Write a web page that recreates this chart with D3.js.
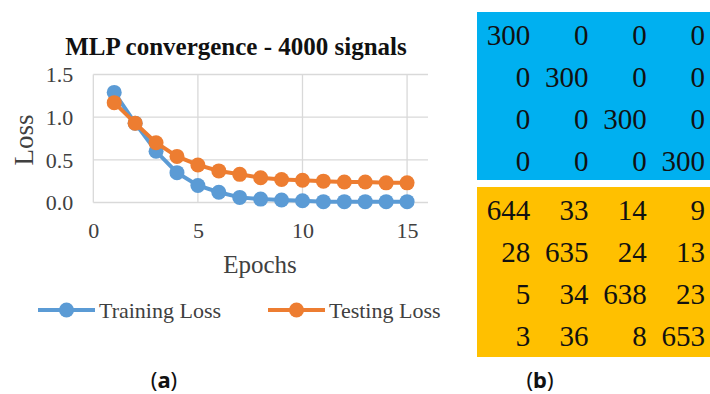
<!DOCTYPE html>
<html>
<head>
<meta charset="utf-8">
<script src="https://cdn.jsdelivr.net/npm/d3@7/dist/d3.min.js"></script>
<style>
  html, body { margin: 0; padding: 0; background: #fff; }
  svg { display: block; }
  .serif { font-family: "Liberation Serif", "Times New Roman", serif; }
</style>
</head>
<body>
<svg id="fig" width="710" height="394"></svg>
<script>
// Loss per epoch for the MLP
const epochs = [1, 2, 3, 4, 5, 6, 7, 8, 9, 10, 11, 12, 13, 14, 15];
const trainingLoss = [1.29, 0.93, 0.60, 0.35, 0.20, 0.12, 0.06, 0.04, 0.03, 0.02, 0.01, 0.01, 0.01, 0.01, 0.01];
const testingLoss  = [1.17, 0.93, 0.70, 0.54, 0.44, 0.37, 0.33, 0.29, 0.27, 0.26, 0.25, 0.24, 0.24, 0.23, 0.23];
const seriesNames = ["Training Loss", "Testing Loss"];
const xTicks = [0, 5, 10, 15];
const yTicks = [0, 0.5, 1.0, 1.5];

// Confusion matrices
const trainMatrix = [
  [300, 0, 0, 0],
  [0, 300, 0, 0],
  [0, 0, 300, 0],
  [0, 0, 0, 300]
];
const testMatrix = [
  [644, 33, 14, 9],
  [28, 635, 24, 13],
  [5, 34, 638, 23],
  [3, 36, 8, 653]
];

const colors = ["#5B9BD5", "#ED7D31"];
const svg = d3.select("#fig");

// ---- (a) loss curves ----
const x = d3.scaleLinear().domain([0, 16]).range([93.3, 428]);
const y = d3.scaleLinear().domain([0, 1.5]).range([202.5, 74.5]);

const grid = svg.append("g");
grid.selectAll("line.h").data(yTicks).join("line")
  .attr("x1", x(0)).attr("x2", x(16))
  .attr("y1", d => y(d)).attr("y2", d => y(d))
  .attr("stroke", "#d9d9d9").attr("stroke-width", 1.3);
grid.selectAll("line.v").data(xTicks).join("line")
  .attr("x1", d => x(d)).attr("x2", d => x(d))
  .attr("y1", y(0)).attr("y2", y(1.5))
  .attr("stroke", "#d9d9d9").attr("stroke-width", 1.3);

// Axes: only labels, the frame lines come from the grid
const yAxis = d3.axisLeft(y).tickValues(yTicks).tickFormat(d3.format(".1f")).tickSize(0).tickPadding(20);
const xAxis = d3.axisBottom(x).tickValues(xTicks).tickFormat(d3.format("d")).tickSize(0).tickPadding(20);
const gy = svg.append("g").attr("transform", `translate(${x(0)},0)`).call(yAxis);
const gx = svg.append("g").attr("transform", `translate(0,${y(0)})`).call(xAxis);
[gy, gx].forEach(g => {
  g.attr("font-family", null).attr("font-size", null).attr("class", "serif");
  g.select(".domain").remove();
  g.selectAll("text").attr("font-size", 22).attr("fill", "#404040");
});
gy.selectAll("text").attr("dy", "0.34em");
gx.selectAll("text").attr("dy", "0.71em");

const seriesData = [trainingLoss, testingLoss].map(vals => epochs.map((e, i) => ({ e, v: vals[i] })));
const line = d3.line().x(d => x(d.e)).y(d => y(d.v));

seriesData.forEach((pts, k) => {
  const g = svg.append("g");
  g.append("path").datum(pts).attr("d", line)
    .attr("fill", "none").attr("stroke", colors[k]).attr("stroke-width", 4);
  g.selectAll("circle").data(pts).join("circle")
    .attr("cx", d => x(d.e)).attr("cy", d => y(d.v)).attr("r", 7.5)
    .attr("fill", colors[k]);
});

svg.append("text").attr("class", "serif").attr("x", 236).attr("y", 55).attr("text-anchor", "middle")
  .attr("font-weight", "bold").attr("font-size", 25)
  .attr("fill", "#111").text("MLP convergence - 4000 signals");

svg.append("text").attr("class", "serif").attr("transform", "translate(33,140) rotate(-90)")
  .attr("text-anchor", "middle").attr("font-size", 27)
  .attr("fill", "#404040").text("Loss");

svg.append("text").attr("class", "serif").attr("x", 260).attr("y", 273).attr("text-anchor", "middle")
  .attr("font-size", 25).attr("fill", "#404040").text("Epochs");

// Legend
const legendX = [38, 268];
const legend = svg.append("g").selectAll("g").data(seriesNames).join("g")
  .attr("transform", (d, i) => `translate(${legendX[i]},310)`);
legend.append("line").attr("x1", 0).attr("x2", 57).attr("y1", 0).attr("y2", 0)
  .attr("stroke", (d, i) => colors[i]).attr("stroke-width", 4);
legend.append("circle").attr("cx", 28.5).attr("cy", 0).attr("r", 7.5)
  .attr("fill", (d, i) => colors[i]);
legend.append("text").attr("class", "serif").attr("x", 61).attr("y", 7.5)
  .attr("font-size", 22).attr("fill", "#404040").text(d => d);

// ---- (b) confusion matrices ----
const col = d3.scaleBand().domain(d3.range(4)).range([477, 710]);
const rowTrain = d3.scaleBand().domain(d3.range(4)).range([12, 180]);
const rowTest = d3.scaleBand().domain(d3.range(4)).range([187, 355]);

function drawMatrix(matrix, row, fill, extraBottom) {
  const g = svg.append("g");
  g.append("rect")
    .attr("x", col.range()[0]).attr("y", row.range()[0])
    .attr("width", col.range()[1] - col.range()[0])
    .attr("height", row.range()[1] - row.range()[0] + extraBottom)
    .attr("fill", fill);
  const cells = matrix.flatMap((r, i) => r.map((v, j) => ({ i, j, v })));
  g.selectAll("text").data(cells).join("text")
    .attr("class", "serif")
    .attr("x", d => col(d.j) + col.bandwidth() - 5)
    .attr("y", d => row(d.i) + 33)
    .attr("text-anchor", "end")
    .attr("font-size", 29).attr("fill", "#111")
    .text(d => d.v);
}
drawMatrix(trainMatrix, rowTrain, "#00B0F0", 0);
drawMatrix(testMatrix, rowTest, "#FFC000", 2);

// Panel captions
const captions = [{ x: 164, t: "a" }, { x: 540, t: "b" }];
const cap = svg.append("g").selectAll("text").data(captions).join("text")
  .attr("x", d => d.x).attr("y", 388).attr("text-anchor", "middle")
  .attr("font-family", "'Noto Sans', 'DejaVu Sans', sans-serif").attr("font-size", 22).attr("fill", "#111");
cap.append("tspan").text("(");
cap.append("tspan").attr("font-weight", "bold").text(d => d.t);
cap.append("tspan").text(")");
</script>
</body>
</html>
